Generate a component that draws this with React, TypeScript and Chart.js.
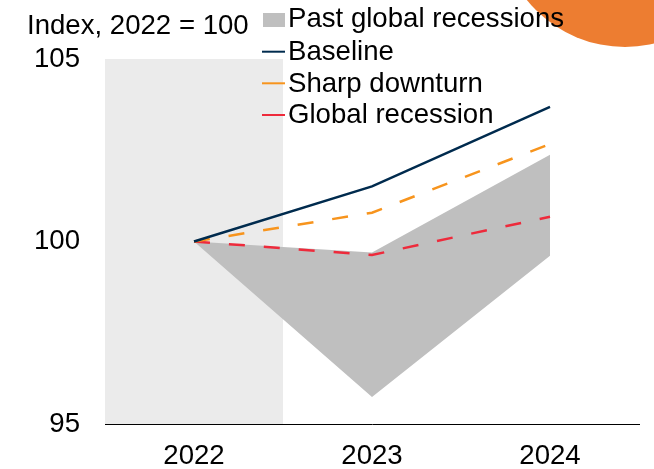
import React, { useEffect, useRef } from "react";
import { Chart, registerables } from "chart.js";

Chart.register(...registerables);

const years = ["2022", "2023", "2024"];
const pastLow = [100, 95.74, 99.61];
const pastHigh = [100, 99.7, 102.38];
const baseline = [100, 101.51, 103.69];
const sharpDownturn = [100, 100.79, 102.67];
const globalRecession = [100, 99.63, 100.68];
const yTicks = [95, 100, 105];
const unitLabel = "Index, 2022 = 100";
const legendLabels = ["Past global recessions", "Baseline", "Sharp downturn", "Global recession"];

const FONT = "'Liberation Sans', Arial, sans-serif";
const FS = 27.6;
const C_BAND = "#BFBFBF";
const C_SHADE = "#EBEBEB";
const C_BASE = "#002B4E";
const C_SHARP = "#F7941D";
const C_REC = "#EE2A3B";
const C_ORANGE = "#ED7D31";

const decorPlugin = {
  id: "decor",
  beforeDraw(chart: any) {
    const ctx = chart.ctx;
    ctx.save();
    ctx.fillStyle = C_ORANGE;
    ctx.beginPath();
    ctx.arc(625, -79, 126, 0, Math.PI * 2);
    ctx.fill();
    ctx.restore();
  },
  beforeDatasetsDraw(chart: any) {
    const { ctx, chartArea, scales } = chart;
    const xr = scales.x.getPixelForValue(0.5);
    ctx.save();
    ctx.fillStyle = C_SHADE;
    ctx.fillRect(chartArea.left, chartArea.top, xr - chartArea.left, chartArea.bottom - chartArea.top);
    ctx.restore();
  },
  afterDraw(chart: any) {
    const ctx = chart.ctx;
    ctx.save();
    ctx.font = `${FS}px ${FONT}`;
    ctx.fillStyle = "#000";
    ctx.textBaseline = "alphabetic";
    ctx.textAlign = "left";
    ctx.fillText(unitLabel, 27, 33.5);
    const colors = [C_BAND, C_BASE, C_SHARP, C_REC];
    const baselines = [27, 59.5, 91.5, 123];
    const markY = [20, 51.7, 83.3, 115];
    legendLabels.forEach((lab, i) => {
      if (i === 0) {
        ctx.fillStyle = C_BAND;
        ctx.fillRect(263, 13, 22, 14);
      } else {
        ctx.strokeStyle = colors[i];
        ctx.lineWidth = 2;
        ctx.beginPath();
        ctx.moveTo(262, markY[i]);
        ctx.lineTo(285, markY[i]);
        ctx.stroke();
      }
      ctx.fillStyle = "#000";
      ctx.fillText(lab, 288, baselines[i]);
    });
    ctx.restore();
  },
};

export default function App() {
  const ref = useRef<HTMLCanvasElement>(null);
  useEffect(() => {
    if (!ref.current) return;
    const chart = new Chart(ref.current, {
      type: "line",
      data: {
        labels: years,
        datasets: [
          {
            label: legendLabels[1],
            data: baseline,
            borderColor: C_BASE,
            borderWidth: 2.5,
            pointRadius: 0,
            fill: false,
            tension: 0,
          },
          {
            label: legendLabels[2],
            data: sharpDownturn,
            borderColor: C_SHARP,
            borderWidth: 2.5,
            borderDash: [16, 19],
            pointRadius: 0,
            fill: false,
          },
          {
            label: legendLabels[3],
            data: globalRecession,
            borderColor: C_REC,
            borderWidth: 2.5,
            borderDash: [16, 19],
            pointRadius: 0,
            fill: false,
          },
          {
            label: "low",
            data: pastLow,
            borderWidth: 0,
            borderColor: "rgba(0,0,0,0)",
            pointRadius: 0,
            fill: false,
          },
          {
            label: legendLabels[0],
            data: pastHigh,
            borderWidth: 0,
            borderColor: "rgba(0,0,0,0)",
            backgroundColor: C_BAND,
            pointRadius: 0,
            fill: "-1",
          },
        ],
      },
      options: {
        responsive: false,
        animation: false,
        layout: { padding: { left: 0, top: 59, right: 15, bottom: 0 } },
        plugins: { legend: { display: false }, tooltip: { enabled: false }, title: { display: false } },
        scales: {
          x: {
            offset: true,
            grid: { display: false, drawTicks: false },
            border: { display: true, color: "#000", width: 1 },
            ticks: { color: "#000", font: { family: FONT, size: FS }, padding: 16, maxRotation: 0 },
            afterFit: (s: any) => {
              s.height = 45;
            },
          },
          y: {
            min: 95,
            max: 105,
            grid: { display: false, drawTicks: false },
            border: { display: false },
            ticks: { color: "#000", font: { family: FONT, size: FS }, padding: 25 },
            afterBuildTicks: (s: any) => {
              s.ticks = yTicks.map((v) => ({ value: v }));
            },
            afterFit: (s: any) => {
              s.width = 105;
            },
          },
        },
      },
      plugins: [decorPlugin],
    });
    return () => chart.destroy();
  }, []);
  return (
    <div style={{ position: "fixed", left: 0, top: 0, width: 654, height: 469, background: "#fff" }}>
      <canvas ref={ref} width={654} height={469} style={{ display: "block" }} />
    </div>
  );
}
